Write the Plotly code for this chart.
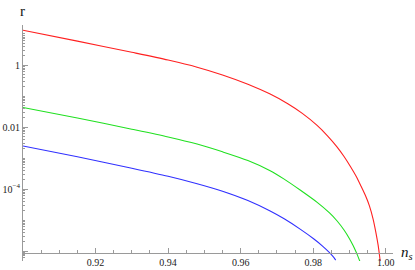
import plotly.graph_objects as go

# ---- data (n_s, log10 r) ----
red_ns = [0.900, 0.915, 0.930, 0.940, 0.948, 0.955, 0.962, 0.968, 0.973, 0.977, 0.981,
          0.984, 0.9865, 0.9885, 0.9903, 0.9918, 0.9932, 0.9944, 0.9955, 0.9965, 0.9973,
          0.9979, 0.9983, 0.9985]
red_log_r = [1.12, 0.77, 0.41, 0.16, -0.07, -0.32, -0.62, -0.93, -1.25, -1.56, -1.94,
             -2.29, -2.63, -2.95, -3.28, -3.58, -3.91, -4.21, -4.54, -4.96, -5.41,
             -5.81, -6.16, -6.36]

green_ns = [0.900, 0.915, 0.930, 0.940, 0.948, 0.955, 0.962, 0.968, 0.972, 0.9765,
            0.9811, 0.9845, 0.9866, 0.9885, 0.9900, 0.9910, 0.9918, 0.9922, 0.9929]
green_log_r = [-1.37, -1.71, -2.07, -2.32, -2.55, -2.80, -3.08, -3.40, -3.68, -4.04,
               -4.43, -4.77, -5.03, -5.32, -5.60, -5.82, -6.02, -6.13, -6.34]

blue_ns = [0.900, 0.915, 0.930, 0.940, 0.948, 0.955, 0.962, 0.968, 0.972, 0.9765,
           0.9802, 0.9825, 0.9845, 0.9855, 0.9862]
blue_log_r = [-2.61, -2.96, -3.33, -3.59, -3.83, -4.07, -4.37, -4.70, -4.96, -5.30,
              -5.61, -5.83, -6.05, -6.18, -6.29]

x_major = [0.92, 0.94, 0.96, 0.98, 1.00]
x_major_labels = ["0.92", "0.94", "0.96", "0.98", "1.00"]
y_major = [1, 0.01, 1e-4, 1e-6]
y_major_labels = ["1", "0.01", "10<sup>\u22124</sup>", " "]

series = [
    ("red", red_ns, red_log_r, "#ff2020"),
    ("green", green_ns, green_log_r, "#20e020"),
    ("blue", blue_ns, blue_log_r, "#3030ff"),
]

# ---- ranges / geometry ----
x_range = [0.900, 1.002]
ylog_range = [-6.32, 1.29]
x_axis_at_log = -6.07  # where the horizontal axis crosses

fig = go.Figure()
for name, xs, ls, col in series:
    fig.add_trace(go.Scatter(
        x=xs, y=[10 ** v for v in ls], mode="lines", name=name,
        line=dict(color=col, width=1.1, shape="spline", smoothing=0.8),
        showlegend=False, hoverinfo="skip"))

# minor tick positions
y_minor = []
for k in range(-7, 2):
    for m in range(1, 10):
        v = m * 10 ** k
        if m == 1 and k % 2 == 0:
            continue
        y_minor.append(v)
x_minor = [round(0.900 + 0.005 * i, 3) for i in range(0, 21)]
x_minor = [v for v in x_minor if all(abs(v - t) > 1e-9 for t in x_major)]

axis_col = "#9a9a9a"
font_fam = "Liberation Serif, Times New Roman, serif"

pos = (x_axis_at_log - ylog_range[0]) / (ylog_range[1] - ylog_range[0])

fig.update_layout(
    width=415, height=270,
    margin=dict(l=23, r=22, t=25, b=9),
    paper_bgcolor="white", plot_bgcolor="white",
    font=dict(family=font_fam, size=10, color="#222"),
    xaxis=dict(
        range=x_range, showgrid=False, zeroline=False,
        showline=True, linecolor=axis_col, linewidth=1,
        anchor="free", position=pos,
        tickmode="array", tickvals=x_major, ticktext=x_major_labels,
        ticks="inside", ticklen=5, tickcolor=axis_col, tickwidth=1,
        tickfont=dict(family=font_fam, size=10, color="#222"),
        minor=dict(tickvals=x_minor, ticks="inside", ticklen=3,
                   tickcolor=axis_col, tickwidth=1, showgrid=False),
        automargin=False,
    ),
    yaxis=dict(
        type="log", range=ylog_range, showgrid=False, zeroline=False,
        showline=True, linecolor=axis_col, linewidth=1,
        tickmode="array", tickvals=y_major, ticktext=y_major_labels,
        ticks="inside", ticklen=5, tickcolor=axis_col, tickwidth=1,
        tickfont=dict(family=font_fam, size=10, color="#222"),
        minor=dict(tickvals=y_minor, ticks="inside", ticklen=2,
                   tickcolor=axis_col, tickwidth=1, showgrid=False),
        automargin=False,
    ),
    annotations=[
        dict(text="r", xref="paper", yref="paper", x=0, y=1, xshift=-1, yshift=14,
             showarrow=False, font=dict(family=font_fam, size=15, color="#111"),
             xanchor="center", yanchor="middle"),
        dict(text="<i>n</i><sub><i>s</i></sub>", xref="paper", yref="paper", x=1, y=pos,
             xshift=14, yshift=0, showarrow=False,
             font=dict(family=font_fam, size=15, color="#111"),
             xanchor="center", yanchor="middle"),
    ],
)

fig.write_html("out.html",
               config={"displayModeBar": False, "staticPlot": True},
               post_script="document.body.style.margin='0px';document.body.style.overflow='hidden';")
